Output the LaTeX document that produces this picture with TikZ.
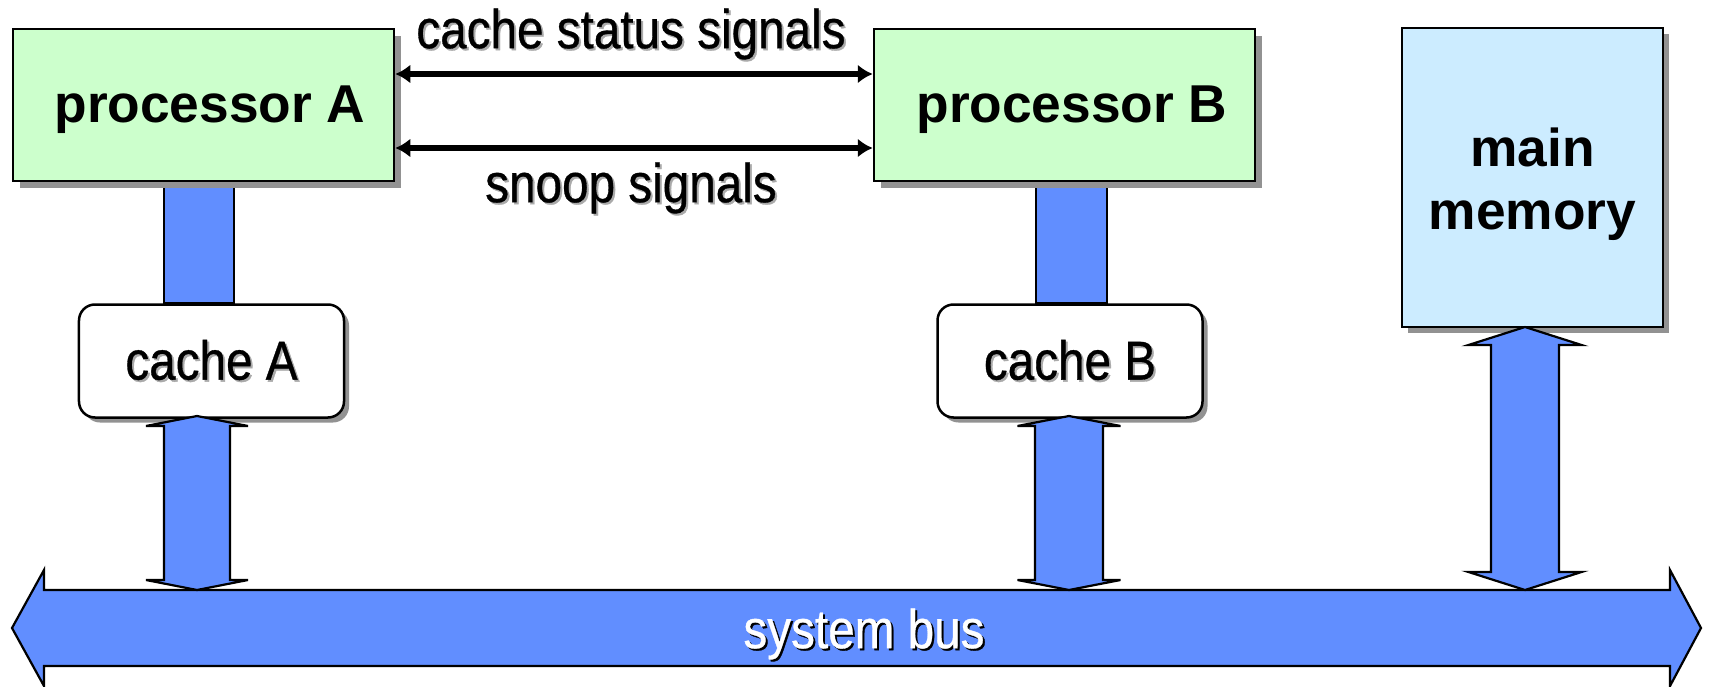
\documentclass[tikz,border=0pt]{standalone}
\usepackage{fontspec}
\setmainfont{Liberation Sans}
\newfontfamily\narrowsans[FakeStretch=0.87,FakeBold=0.6]{Liberation Sans}
\usetikzlibrary{arrows.meta,shadows,calc}

\definecolor{procgreen}{RGB}{204,255,204}
\definecolor{memblue}{RGB}{204,236,255}
\definecolor{busblue}{RGB}{97,142,255}
\definecolor{shadowgray}{RGB}{146,146,146}
\definecolor{textshade}{RGB}{170,170,170}

% text with a small offset copy behind it
\newcommand\shadowed[3]{{\color{#2}\rlap{\kern2bp\raisebox{-2bp}{#1}}}{\color{#3}#1}}

% vertical two-headed block arrow: x, top y, bottom y, shaft half width, head half width, head length
\newcommand\vbiarrow[6]{%
  \draw[blockarrow] (#1,#2) -- (#1+#5,#2+#6) -- (#1+#4,#2+#6) -- (#1+#4,#3-#6)
    -- (#1+#5,#3-#6) -- (#1,#3) -- (#1-#5,#3-#6) -- (#1-#4,#3-#6)
    -- (#1-#4,#2+#6) -- (#1-#5,#2+#6) -- cycle;}

\tikzset{
  box/.style={draw=black, line width=2.5bp, inner sep=0pt},
  boldtext/.style={inner sep=0pt, align=center, font=\bfseries\fontsize{53.5}{63}\selectfont},
  procbox/.style={box, fill=procgreen, minimum width=381bp, minimum height=152bp,
    drop shadow={shadow xshift=7bp, shadow yshift=-7bp, fill=shadowgray, opacity=1}},
  membox/.style={box, fill=memblue, minimum width=261bp, minimum height=299bp,
    drop shadow={shadow xshift=6bp, shadow yshift=-6bp, fill=shadowgray, opacity=1}},
  cachebox/.style={box, fill=white, rounded corners=16bp, minimum width=265bp, minimum height=113bp,
    font=\narrowsans\fontsize{55}{60}\selectfont,
    drop shadow={shadow xshift=5bp, shadow yshift=-5bp, fill=shadowgray, opacity=1}},
  blockarrow/.style={draw=black, line width=2.2bp, fill=busblue, line join=miter},
  link/.style={draw=black, line width=2.5bp, fill=busblue},
  signal/.style={line width=5.5bp, {Latex[length=15bp,width=19bp]}-{Latex[length=15bp,width=19bp]}},
  label/.style={inner sep=0pt, font=\narrowsans\fontsize{55}{60}\selectfont},
}

\begin{document}
\begin{tikzpicture}[x=1bp, y=-1bp]
  \useasboundingbox (0,0) rectangle (1712,687);

  % system bus
  \coordinate (busL) at (12,628);
  \coordinate (busR) at (1701,628);
  \draw[blockarrow] (busL) -- (44,570) -- (44,590) -- (1670,590) -- (1670,570) -- (busR)
    -- (1670,686) -- (1670,666) -- (44,666) -- (44,686) -- cycle;
  \node[label] (busname) at (864,635) {\shadowed{system bus}{black}{white}};

  % links between processors and caches
  \coordinate (linkA1) at (164,181);
  \coordinate (linkA2) at (234,303);
  \coordinate (linkB1) at (1036,181);
  \coordinate (linkB2) at (1107,303);
  \draw[link] (linkA1) rectangle (linkA2);
  \draw[link] (linkB1) rectangle (linkB2);

  % boxes
  \node[procbox] (procA) at (203.5,105) {};
  \node[procbox] (procB) at (1064.5,105) {};
  \node[membox] (mem) at (1532.5,177.5) {};
  \node[boldtext] (procAname) at (210,110) {processor A};
  \node[boldtext] (procBname) at (1072,110) {processor B};
  \node[boldtext] (memname) at (1532.5,184.5) {main\\memory};
  \node[cachebox] (cacheA) at (211.5,361) {\shadowed{cache A}{textshade}{black}};
  \node[cachebox] (cacheB) at (1070,361) {\shadowed{cache B}{textshade}{black}};

  % signals between the processors
  \draw[signal] ($(procA.east)+(0,-31)$) -- ($(procB.west)+(0,-31)$);
  \draw[signal] ($(procA.east)+(0,43)$) -- ($(procB.west)+(0,43)$);
  \node[label] (status) at (631,35) {\shadowed{cache status signals}{textshade}{black}};
  \node[label] (snoop) at (631,189) {\shadowed{snoop signals}{textshade}{black}};

  % block arrows to the bus
  \vbiarrow{197}{416}{590}{33}{51}{10}
  \vbiarrow{1069}{416}{590}{34}{51.5}{10}
  \vbiarrow{1525}{327}{590}{34}{56.5}{18}
\end{tikzpicture}
\end{document}
